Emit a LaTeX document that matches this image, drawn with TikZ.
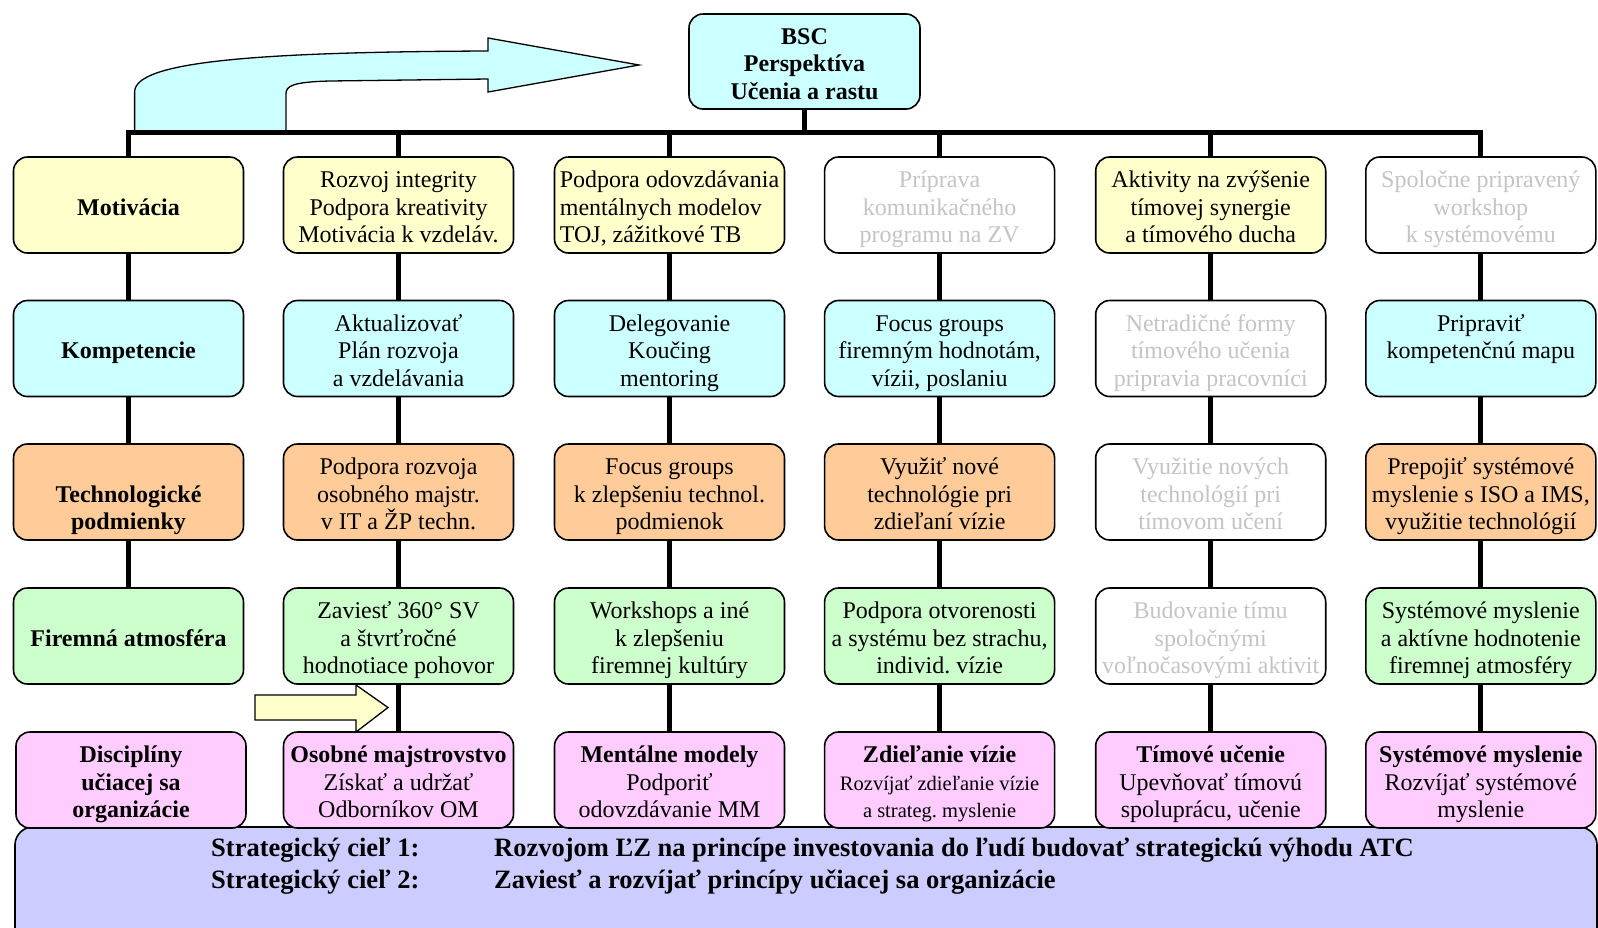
\documentclass[tikz,border=0pt]{standalone}
\usepackage{fontspec}
\setmainfont{LiberationSerif}[Extension=.ttf, UprightFont=*-Regular, BoldFont=*-Bold,
  ItalicFont=*-Italic, BoldItalicFont=*-BoldItalic]
\frenchspacing
\definecolor{cYel}{RGB}{255,255,204}
\definecolor{cCyan}{RGB}{204,255,255}
\definecolor{cOra}{RGB}{255,204,153}
\definecolor{cGrn}{RGB}{204,255,204}
\definecolor{cPink}{RGB}{255,204,255}
\definecolor{cLav}{RGB}{204,204,255}
\definecolor{cFaint}{RGB}{196,196,196}
\newcommand\smalltxt{\fontsize{20.5}{25.5}\selectfont}
% fixed height for the first text line of every box
\newcommand\tp{\rule{0pt}{29pt}}
\begin{document}
\begin{tikzpicture}[x=1pt,y=-1pt,
  box/.style={draw=black, line width=1.6pt, rounded corners=14pt,
    minimum width=230pt, minimum height=96pt, align=center, inner sep=1pt,
    font=\fontsize{24}{27.5}\selectfont, execute at end node=\strut},
  yelbox/.style={box, fill=cYel},
  cyanbox/.style={box, fill=cCyan},
  orabox/.style={box, fill=cOra},
  grnbox/.style={box, fill=cGrn},
  pinkbox/.style={box, fill=cPink},
  blankbox/.style={box, fill=white, text=cFaint},
  head/.style={font=\fontsize{24}{27.5}\selectfont\bfseries},
  goal/.style={anchor=west, inner sep=0pt, font=\fontsize{26.5}{32}\selectfont\bfseries},
  link/.style={line width=5pt},
  shape arrow/.style={draw=black, line width=1.3pt, line join=miter}]
\useasboundingbox (0,0) rectangle (1598,927);
\clip (0,0) rectangle (1598,927);

% strategic goals panel
\draw[fill=cLav, line width=1.6pt, rounded corners=18pt] (15,827) rectangle (1597,980);
\node[goal] (g1a) at (211,850) {Strategický cieľ 1:};
\node[goal] (g1b) at (494,850) {Rozvojom ĽZ na princípe investovania do ľudí budovať strategickú výhodu ATC};
\node[goal] (g2a) at (211,882.5) {Strategický cieľ 2:};
\node[goal] (g2b) at (494,882.5) {Zaviesť a rozvíjať princípy učiacej sa organizácie};

% curved arrow pointing to the BSC perspective
\draw[shape arrow, fill=cCyan]
  (134.6,131) -- (134.6,92) .. controls (134.6,62) and (250,52) .. (488,51)
  -- (488,38) -- (639,65) -- (488,92) -- (488,79)
  -- (330,81) .. controls (292,82) and (286,86) .. (286,94) -- (286,131) -- cycle;

% BSC perspective
\node[cyanbox, head, minimum width=231pt, minimum height=95pt] (bsc) at (804.5,61.5)
  {\tp BSC\\ Perspektíva\\ Učenia a rastu};

% row 1: motivation
\node[yelbox, head] (m1) at (128.5,205) {\tp Motivácia};
\node[yelbox] (m2) at (398.5,205) {\tp Rozvoj integrity\\ Podpora kreativity\\ Motivácia k vzdeláv.};
\node[yelbox, align=left] (m3) at (669.5,205) {\tp Podpora odovzdávania\\ mentálnych modelov\\ TOJ, zážitkové TB};
\node[blankbox] (m4) at (939.6,205) {\tp Príprava\\ komunikačného\\ programu na ZV};
\node[yelbox] (m5) at (1210.7,205) {\tp Aktivity na zvýšenie\\ tímovej synergie\\ a tímového ducha};
\node[blankbox] (m6) at (1480.8,205) {\tp Spoločne pripravený\\ workshop\\ k systémovému};

% row 2: competences
\node[cyanbox, head] (k1) at (128.5,348.5) {\tp Kompetencie};
\node[cyanbox] (k2) at (398.5,348.5) {\tp Aktualizovať\\ Plán rozvoja\\ a vzdelávania};
\node[cyanbox] (k3) at (669.5,348.5) {\tp Delegovanie\\ Koučing\\ mentoring};
\node[cyanbox] (k4) at (939.6,348.5) {\tp Focus groups\\ firemným hodnotám,\\ vízii, poslaniu};
\node[blankbox] (k5) at (1210.7,348.5) {\tp Netradičné formy\\ tímového učenia\\ pripravia pracovníci};
\node[cyanbox] (k6) at (1480.8,348.5) {\tp Pripraviť\\ kompetenčnú mapu\\ \mbox{}};

% row 3: technological conditions
\node[orabox, head] (t1) at (128.5,492) {\tp\\ Technologické\\ podmienky};
\node[orabox] (t2) at (398.5,492) {\tp Podpora rozvoja\\ osobného majstr.\\ v IT a ŽP techn.};
\node[orabox] (t3) at (669.5,492) {\tp Focus groups\\ k zlepšeniu technol.\\ podmienok};
\node[orabox] (t4) at (939.6,492) {\tp Využiť nové\\ technológie pri\\ zdieľaní vízie};
\node[blankbox] (t5) at (1210.7,492) {\tp Využitie nových\\ technológií pri\\ tímovom učení};
\node[orabox] (t6) at (1480.8,492) {\tp Prepojiť systémové\\ myslenie s ISO a IMS,\\ využitie technológií};

% row 4: company atmosphere
\node[grnbox, head] (f1) at (128.5,636) {\tp Firemná atmosféra};
\node[grnbox] (f2) at (398.5,636) {\tp Zaviesť 360° SV\\ a štvrťročné\\ hodnotiace pohovor};
\node[grnbox] (f3) at (669.5,636) {\tp Workshops a iné\\ k zlepšeniu\\ firemnej kultúry};
\node[grnbox] (f4) at (939.6,636) {\tp Podpora otvorenosti\\ a systému bez strachu,\\ individ. vízie};
\node[blankbox] (f5) at (1210.7,636) {\tp Budovanie tímu\\ spoločnými\\ voľnočasovými aktivit};
\node[grnbox] (f6) at (1480.8,636) {\tp Systémové myslenie\\ a aktívne hodnotenie\\ firemnej atmosféry};

% row 5: disciplines of the learning organisation
\node[pinkbox, head] (d1) at (131,780) {\tp Disciplíny\\ učiacej sa\\ organizácie};
\node[pinkbox] (d2) at (398.5,780) {\tp\textbf{Osobné majstrovstvo}\\ Získať a udržať\\ Odborníkov OM};
\node[pinkbox] (d3) at (669.5,780) {\tp\textbf{Mentálne modely}\\ Podporiť\\ odovzdávanie MM};
\node[pinkbox] (d4) at (939.6,780) {\tp\textbf{Zdieľanie vízie}\\ \smalltxt Rozvíjať zdieľanie vízie\\ \smalltxt a strateg. myslenie};
\node[pinkbox] (d5) at (1210.7,780) {\tp\textbf{Tímové učenie}\\ Upevňovať tímovú\\ spoluprácu, učenie};
\node[pinkbox] (d6) at (1480.8,780) {\tp\textbf{Systémové myslenie}\\ Rozvíjať systémové\\ myslenie};

% tree connectors
\coordinate (bar) at (0,132);
\draw[link] (bsc.south) -- (bsc.south |- bar);
\draw[link, line join=miter] (m1.north) -- (m1.north |- bar) -- (m6.north |- bar) -- (m6.north);
\foreach \c in {2,3,4,5}
  \draw[link] (m\c.north |- bar) -- (m\c.north);
\foreach \c in {1,...,6} {
  \draw[link] (m\c.south) -- (k\c.north);
  \draw[link] (k\c.south) -- (t\c.north);
  \draw[link] (t\c.south) -- (f\c.north);
}
\foreach \c in {2,...,6}
  \draw[link] (f\c.south) -- (d\c.north);

% small pointer arrow towards the first discipline
\draw[shape arrow, fill=cYel]
  (255,695) -- (356,695) -- (356,685) -- (388,707.5) -- (356,732)
  -- (356,720) -- (255,720) -- cycle;
\end{tikzpicture}
\end{document}
